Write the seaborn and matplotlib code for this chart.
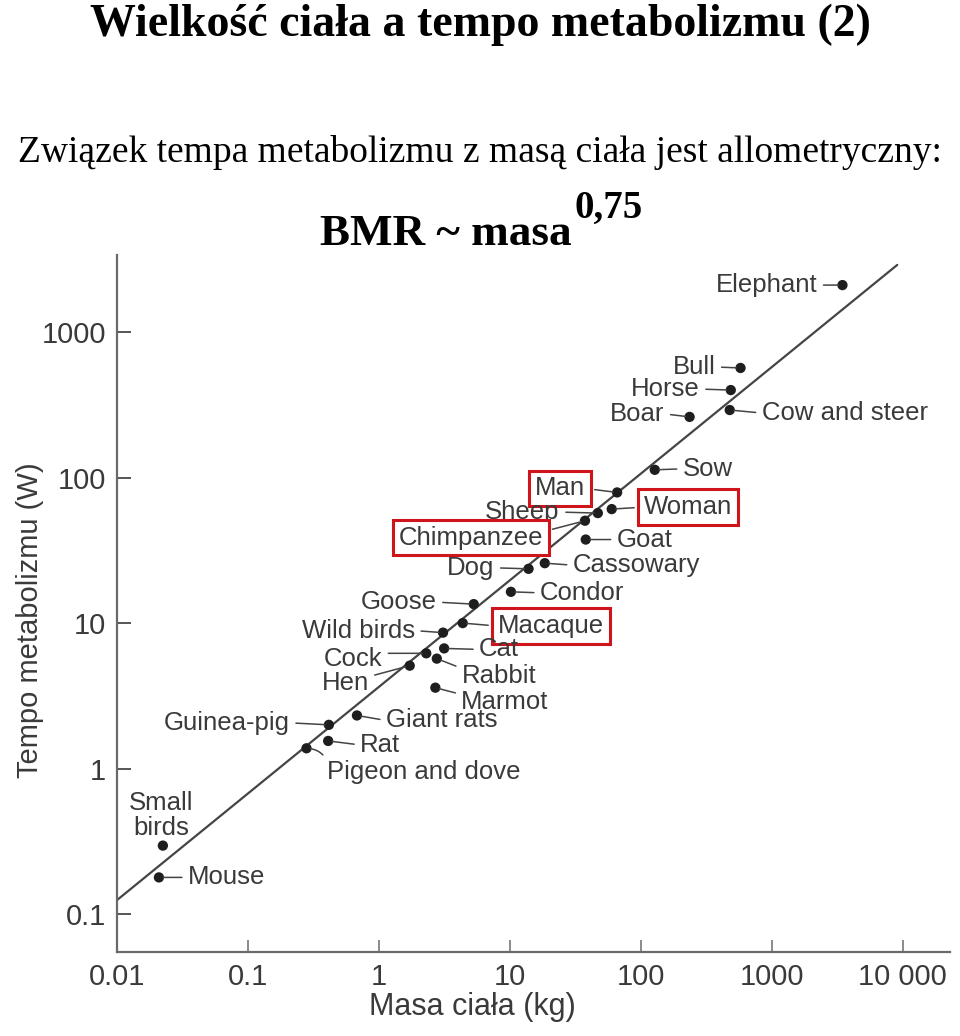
import matplotlib
matplotlib.use("Agg")
import matplotlib.pyplot as plt
import seaborn as sns
import pandas as pd

# ---- data ----
animals = ["Elephant", "Bull", "Horse", "Boar", "Cow and steer", "Sow", "Man", "Woman",
           "Sheep", "Chimpanzee", "Goat", "Cassowary", "Dog", "Condor", "Goose", "Macaque",
           "Wild birds", "Cat", "Cock", "Hen", "Rabbit", "Marmot", "Giant rats", "Guinea-pig",
           "Rat", "Pigeon and dove", "Small\nbirds", "Mouse"]
mass_kg = [3470, 578, 487, 236, 478, 128, 66, 60,
           47, 37.5, 38, 18.5, 13.9, 10.2, 5.3, 4.37,
           3.09, 3.15, 2.3, 1.72, 2.77, 2.7, 0.68, 0.415,
           0.41, 0.28, 0.0224, 0.0209]
bmr_w = [2100, 566, 399, 261, 291, 113, 79, 60.7,
         57, 50.5, 37.5, 25.8, 23.6, 16.4, 13.5, 10,
         8.6, 6.7, 6.2, 5.1, 5.7, 3.6, 2.32, 2.0,
         1.55, 1.38, 0.296, 0.179]
boxed = ["Man", "Woman", "Chimpanzee", "Macaque"]

fit_mass = [0.01, 9100]
fit_bmr = [0.125, 2890]

x_ticks = [0.01, 0.1, 1, 10, 100, 1000, 10000]
x_tick_labels = ["0.01", "0.1", "1", "10", "100", "1000", "10 000"]
y_ticks = [0.1, 1, 10, 100, 1000]
y_tick_labels = ["0.1", "1", "10", "100", "1000"]

# ---- label layout (offsets in pixels, y up) ----
label_dx = [-25, -25, -31, -25, 32, 28, -32, 32,
            -38, -42, 31, 28, -34, 29, -37, 35,
            -28, 35, -44, -41, 25, 26, 29, -39,
            32, 21, -2, 29]
label_dy = [0, 1, 1, 3, -3, 1, 4, 2,
            1, -17, 0, -2, 1, -1, 2, -3,
            2, -1, -6, -17, -17, -14, -5, 2,
            -4, -24, 30, 0]
label_ha = ["right", "right", "right", "right", "left", "left", "right", "left",
            "right", "right", "left", "left", "right", "left", "right", "left",
            "right", "left", "right", "right", "left", "left", "left", "right",
            "left", "left", "center", "left"]

sns.set_theme(style="white")
plt.rcParams["font.family"] = ["Liberation Sans", "DejaVu Sans"]

fig = plt.figure(figsize=(9.6, 10.36), dpi=100)
ax = fig.add_axes([117 / 960, 1 - 952 / 1036, 833 / 960, 697 / 1036])

df = pd.DataFrame({"animal": animals, "mass": mass_kg, "bmr": bmr_w})
fit = pd.DataFrame({"mass": fit_mass, "bmr": fit_bmr})

ax.set_xscale("log")
ax.set_yscale("log")
sns.lineplot(data=fit, x="mass", y="bmr", ax=ax, color="#454545", lw=1.6, sort=False)
sns.scatterplot(data=df, x="mass", y="bmr", ax=ax, color="#1e1e1e", s=55,
                edgecolor="none", zorder=5)

ax.set_xlim(0.01, 23000)
ax.set_ylim(0.055, 3380)
ax.set_xticks(x_ticks)
ax.set_xticklabels(x_tick_labels)
ax.set_yticks(y_ticks)
ax.set_yticklabels(y_tick_labels)
ax.minorticks_off()

txt_col = "#3a3a3a"
for s in ["top", "right"]:
    ax.spines[s].set_visible(False)
for s in ["left", "bottom"]:
    ax.spines[s].set_color("#6a6a6a")
    ax.spines[s].set_linewidth(1.6)
ax.tick_params(axis="y", direction="in", length=10, width=1.4, color="#555555",
               labelsize=21, labelcolor=txt_col, pad=8, left=True)
ax.tick_params(axis="x", direction="in", length=9, width=1.2, color="#777777",
               labelsize=21, labelcolor=txt_col, pad=8, bottom=True)

ax.set_xlabel("Masa ciała (kg)", fontsize=22, color=txt_col)
ax.set_ylabel("Tempo metabolizmu (W)", fontsize=21, color=txt_col)
ax.xaxis.set_label_coords(0.427, -0.057)
ax.yaxis.set_label_coords(-0.088, 0.476)

px2pt = 0.72
for name, m, b, dx, dy, ha in zip(animals, mass_kg, bmr_w, label_dx, label_dy, label_ha):
    kw = {}
    if name in boxed:
        kw["bbox"] = dict(boxstyle="square,pad=0.22", fc="white", ec="#d0141c", lw=2.2)
    arrow = None
    if "\n" not in name:
        if ha == "right":
            rp = (1.0, 0.5 if dy > -5 else 0.75)
        else:
            rp = (0.0, 0.5 if dy > -6 else 0.8)
        cs = "arc3,rad=0.3" if name == "Pigeon and dove" else "arc3"
        if name == "Pigeon and dove":
            rp = (0.0, 0.95)
        arrow = dict(arrowstyle="-", color="#444444", lw=1.1, shrinkA=2, shrinkB=3,
                     connectionstyle=cs, relpos=rp)
    ax.annotate(name, xy=(m, b), xytext=(dx * px2pt, dy * px2pt),
                textcoords="offset points", ha=ha, va="center",
                fontsize=18.5, color=txt_col, linespacing=1.05,
                arrowprops=arrow, zorder=6, **kw)

serif = ["Liberation Serif", "DejaVu Serif"]
fig.text(0.5, 1 - 36 / 1036, "Wielkość ciała a tempo metabolizmu (2)", ha="center",
         va="baseline", fontsize=33, fontweight="bold", family=serif, color="black")
fig.text(0.5, 1 - 162 / 1036,
         "Związek tempa metabolizmu z masą ciała jest allometryczny:",
         ha="center", va="baseline", fontsize=27, family=serif, color="black")
fig.text(320 / 960, 1 - 245 / 1036, "BMR ~ masa", ha="left", va="baseline",
         fontsize=32.5, fontweight="bold", family=serif, color="black")
fig.text(574 / 960, 1 - 218 / 1036, "0,75", ha="left", va="baseline",
         fontsize=28, fontweight="bold", family=serif, color="black")

fig.savefig("out.png", dpi=100, facecolor="white")
